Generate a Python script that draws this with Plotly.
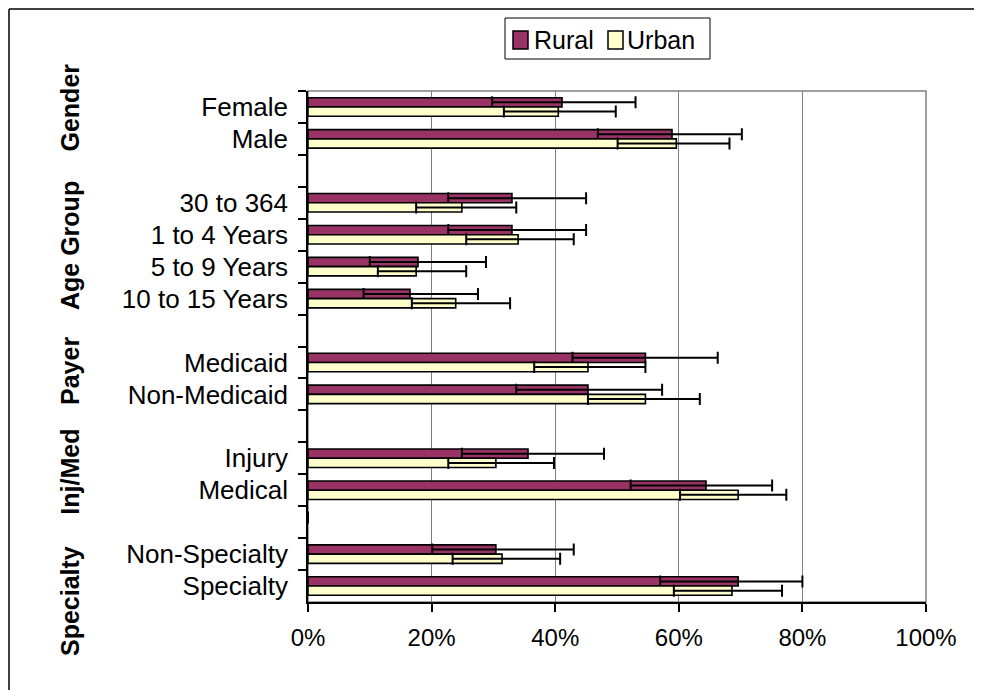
import plotly.graph_objects as go

# ---- data (percent) ----
categories = ["Female", "Male", " ", "30 to 364", "1 to 4 Years", "5 to 9 Years",
              "10 to 15 Years", "  ", "Medicaid", "Non-Medicaid", "   ", "Injury",
              "Medical", "    ", "Non-Specialty", "Specialty"]
rural = [41.1, 58.9, None, 33.0, 33.0, 17.8, 16.5, None, 54.6, 45.3, None, 35.6, 64.4, 0, 30.4, 69.6]
rural_low = [29.8, 46.9, None, 22.7, 22.7, 10.0, 9.0, None, 42.8, 33.7, None, 24.9, 52.2, 0, 20.1, 57.0]
rural_high = [53.0, 70.2, None, 45.0, 45.0, 28.8, 27.5, None, 66.3, 57.3, None, 47.9, 75.1, 0, 43.0, 80.0]
urban = [40.5, 59.6, None, 24.9, 34.0, 17.5, 23.9, None, 45.3, 54.6, None, 30.4, 69.6, None, 31.4, 68.6]
urban_low = [31.7, 50.1, None, 17.5, 25.6, 11.3, 16.8, None, 36.6, 45.3, None, 22.7, 60.2, None, 23.4, 59.2]
urban_high = [49.8, 68.2, None, 33.7, 43.0, 25.6, 32.7, None, 54.6, 63.4, None, 39.8, 77.4, None, 40.8, 76.7]
series_names = ["Rural", "Urban"]
series_colors = ["#993366", "#FFFFCC"]
groups = ["Gender", "Age Group", "Payer", "Inj/Med", "Specialty"]
x_ticks = [0, 20, 40, 60, 80, 100]
x_ticklabels = ["0%", "20%", "40%", "60%", "80%", "100%"]


def frac(v):
    return None if v is None else v / 100.0


def err_plus(v, hi):
    return [0 if a is None else (b - a) / 100.0 for a, b in zip(v, hi)]


def err_minus(v, lo):
    return [0 if a is None else (a - b) / 100.0 for a, b in zip(v, lo)]


FONT = "Arial, Liberation Sans, sans-serif"
OFF = 8  # page body margin
W, H = 982 - OFF, 691 - OFF
ML, MT = 308 - OFF, 91 - OFF
MR = W - (926 - OFF)
MB = H - (602 - OFF)
PW, PH = W - ML - MR, H - MT - MB


def px(x):  # page pixel -> paper x
    return (x - OFF - ML) / PW


def py(y):  # page pixel -> paper y
    return (H - MB - (y - OFF)) / PH


fig = go.Figure()
for name, col, vals, lo, hi in [("Rural", series_colors[0], rural, rural_low, rural_high),
                                ("Urban", series_colors[1], urban, urban_low, urban_high)]:
    fig.add_trace(go.Bar(
        name=name, y=categories, x=[frac(v) for v in vals], orientation="h",
        marker=dict(color=col, line=dict(color="black", width=1.6)),
        error_x=dict(type="data", array=err_plus(vals, hi),
                     arrayminus=err_minus(vals, lo), color="black",
                     thickness=2, width=6),
        showlegend=False,
    ))

group_y = [107.5, 246, 371, 471.7, 601]
annotations = []
for g, gy in zip(groups, group_y):
    annotations.append(dict(text="<b>%s</b>" % g, x=px(70), y=py(gy), xref="paper", yref="paper",
                            showarrow=False, textangle=-90, xanchor="center", yanchor="middle",
                            font=dict(family=FONT, size=25, color="black")))

# custom legend
legend_sw_x = [513, 608]
legend_tx_x = [532, 625]
LEG_Y0, LEG_Y1, LEG_YC = 18, 59, 39
shapes = [
    dict(type="rect", xref="x domain", yref="y domain", x0=0, x1=1, y0=0, y1=1,
         line=dict(color="#808080", width=1.5), layer="below"),
    dict(type="line", xref="paper", yref="paper", x0=px(9), x1=px(990), y0=py(9), y1=py(9),
         line=dict(color="black", width=1.5)),
    dict(type="line", xref="paper", yref="paper", x0=px(9), x1=px(9), y0=py(9), y1=py(690),
         line=dict(color="black", width=1.5)),
    dict(type="rect", xref="paper", yref="paper", x0=px(505), x1=px(710), y0=py(LEG_Y0), y1=py(LEG_Y1),
         line=dict(color="black", width=1), fillcolor="white"),
]
for name, col, sx, tx in zip(series_names, series_colors, legend_sw_x, legend_tx_x):
    shapes.append(dict(type="rect", xref="paper", yref="paper", x0=px(sx), x1=px(sx + 15),
                       y0=py(LEG_YC - 8), y1=py(LEG_YC + 10),
                       line=dict(color="black", width=1.5), fillcolor=col))
    annotations.append(dict(text=name, x=px(tx), y=py(LEG_YC + 1), xref="paper", yref="paper",
                            showarrow=False, xanchor="left", yanchor="middle",
                            font=dict(family=FONT, size=25, color="black")))

fig.update_layout(
    width=W, height=H,
    margin=dict(l=ML, r=MR, t=MT, b=MB),
    paper_bgcolor="white", plot_bgcolor="white",
    barmode="group", bargap=0.42, bargroupgap=0,
    font=dict(family=FONT, size=25, color="black"),
    showlegend=False,
    annotations=annotations,
    shapes=shapes,
    xaxis=dict(range=[0, 1], tickvals=[t / 100 for t in x_ticks], ticktext=x_ticklabels,
               showgrid=True, gridcolor="#808080", gridwidth=1,
               showline=True, linecolor="black", linewidth=1.5,
               ticks="outside", ticklen=8, tickcolor="black", tickwidth=1.5,
               zeroline=False, tickfont=dict(size=24), ticklabelstandoff=5),
    yaxis=dict(type="category", categoryorder="array", categoryarray=categories,
               autorange="reversed", showgrid=False, showline=True, linecolor="black",
               linewidth=1.5, ticks="outside", ticklen=8, tickcolor="black", tickwidth=1.5,
               tickson="boundaries", ticklabelstandoff=13, tickfont=dict(size=26)),
)

fig.write_html("out.html")
